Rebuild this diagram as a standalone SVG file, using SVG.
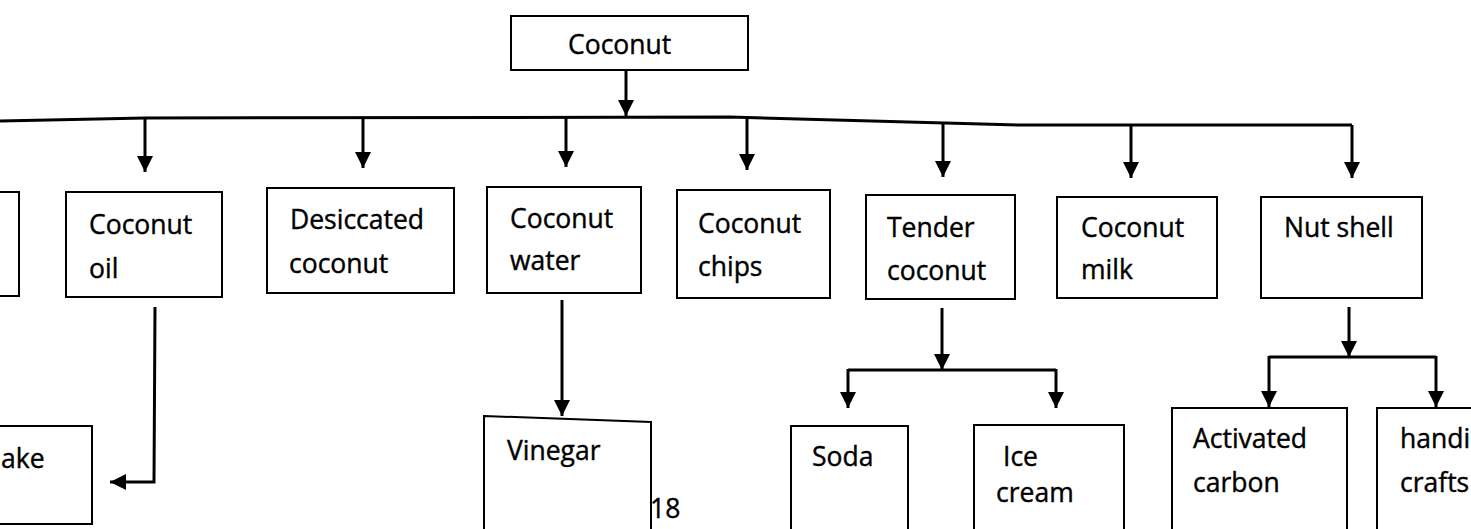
<svg xmlns="http://www.w3.org/2000/svg" width="1471" height="529" viewBox="0 0 1471 529">
<style>
  .box { fill: #ffffff; stroke: #000000; stroke-width: 2; }
  .lbl { font-family: "Open Sans", "Liberation Sans", sans-serif; font-size: 26.5px; fill: #000000; stroke: #000000; stroke-width: 0.4; }
  .con { fill: none; stroke: #000000; stroke-width: 3; }
  .arr { fill: none; stroke: #000000; stroke-width: 3; marker-end: url(#ah); }
</style>
<defs>
  <marker id="ah" viewBox="0 0 16 16" refX="16" refY="8" markerWidth="16" markerHeight="16" markerUnits="userSpaceOnUse" orient="auto">
    <path d="M0,0 L16,8 L0,16 Z" fill="#000000"/>
  </marker>
</defs>
<rect width="1471" height="529" fill="#ffffff"/>

<g id="connectors">
  <line class="arr" x1="626" y1="70" x2="626" y2="116"/>
  <polyline class="con" points="0,121 145,118 730,117 1020,125 1352,125"/>
  <line class="arr" x1="145" y1="118" x2="145" y2="172"/>
  <line class="arr" x1="363" y1="118" x2="363" y2="168"/>
  <line class="arr" x1="566" y1="117" x2="566" y2="167"/>
  <line class="arr" x1="747" y1="117" x2="747" y2="170"/>
  <line class="arr" x1="943" y1="124" x2="943" y2="177"/>
  <line class="arr" x1="1131" y1="125" x2="1131" y2="178"/>
  <line class="arr" x1="1352" y1="125" x2="1352" y2="178"/>
  <polyline class="arr" points="155,307 154,482 110,482"/>
  <line class="arr" x1="562" y1="300" x2="562" y2="416"/>
  <line class="arr" x1="942" y1="308" x2="942" y2="370"/>
  <polyline class="con" points="848,370 1056,370"/>
  <line class="arr" x1="848" y1="369" x2="848" y2="408"/>
  <line class="arr" x1="1056" y1="369" x2="1056" y2="408"/>
  <line class="arr" x1="1349" y1="307" x2="1349" y2="357"/>
  <polyline class="con" points="1269,357 1436,357"/>
  <line class="arr" x1="1269" y1="356" x2="1269" y2="407"/>
  <line class="arr" x1="1436" y1="356" x2="1436" y2="407"/>
</g>

<g id="node-coconut">
  <rect class="box" x="511" y="16" width="237" height="54"/>
  <text class="lbl" x="568" y="54">Coconut</text>
</g>
<g id="node-left-partial">
  <rect class="box" x="-10" y="192" width="29" height="104"/>
</g>
<g id="node-coconut-oil">
  <rect class="box" x="66" y="192" width="156" height="105"/>
  <text class="lbl" x="89" y="234">Coconut</text>
  <text class="lbl" x="89" y="278">oil</text>
</g>
<g id="node-desiccated">
  <rect class="box" x="267" y="188" width="187" height="105"/>
  <text class="lbl" x="290" y="229">Desiccated</text>
  <text class="lbl" x="289" y="273">coconut</text>
</g>
<g id="node-coconut-water">
  <rect class="box" x="487" y="187" width="154" height="106"/>
  <text class="lbl" x="510" y="228">Coconut</text>
  <text class="lbl" x="510" y="270">water</text>
</g>
<g id="node-coconut-chips">
  <rect class="box" x="677" y="190" width="153" height="108"/>
  <text class="lbl" x="698" y="233">Coconut</text>
  <text class="lbl" x="698" y="276">chips</text>
</g>
<g id="node-tender-coconut">
  <rect class="box" x="866" y="195" width="149" height="104"/>
  <text class="lbl" x="887" y="237">Tender</text>
  <text class="lbl" x="887" y="280">coconut</text>
</g>
<g id="node-coconut-milk">
  <rect class="box" x="1057" y="197" width="160" height="101"/>
  <text class="lbl" x="1081" y="237">Coconut</text>
  <text class="lbl" x="1081" y="279">milk</text>
</g>
<g id="node-nut-shell">
  <rect class="box" x="1261" y="197" width="161" height="101"/>
  <text class="lbl" x="1284" y="237">Nut shell</text>
</g>
<g id="node-cake">
  <rect class="box" x="-10" y="426" width="102" height="98"/>
  <text class="lbl" x="1" y="468">ake</text>
</g>
<g id="node-vinegar">
  <polygon class="box" points="484,416 651,422 651,540 484,540"/>
  <text class="lbl" x="507" y="460">Vinegar</text>
</g>
<g id="node-soda">
  <rect class="box" x="791" y="426" width="117" height="120"/>
  <text class="lbl" x="812" y="466">Soda</text>
</g>
<g id="node-ice-cream">
  <rect class="box" x="974" y="425" width="150" height="120"/>
  <text class="lbl" x="1003" y="466">Ice</text>
  <text class="lbl" x="996" y="502">cream</text>
</g>
<g id="node-activated-carbon">
  <rect class="box" x="1172" y="408" width="175" height="140"/>
  <text class="lbl" x="1193" y="448">Activated</text>
  <text class="lbl" x="1193" y="492">carbon</text>
</g>
<g id="node-handicrafts">
  <rect class="box" x="1377" y="408" width="120" height="140"/>
  <text class="lbl" x="1400" y="448">handi</text>
  <text class="lbl" x="1400" y="492">crafts</text>
</g>
<text class="lbl" x="650" y="518">18</text>
</svg>
